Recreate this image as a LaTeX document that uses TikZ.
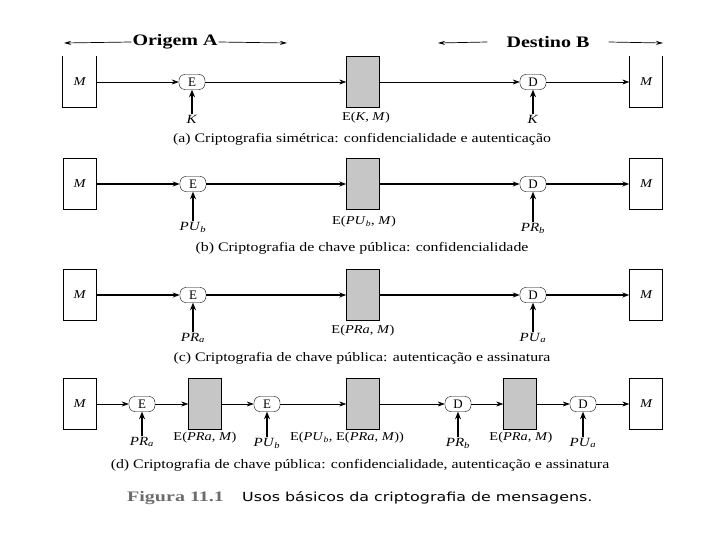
\documentclass[tikz,border=0pt]{standalone}
\usepackage{fontspec}
\setmainfont{Liberation Serif}
\newfontfamily\capsans{DejaVu Sans}
\usetikzlibrary{arrows.meta}
\newcommand{\hs}[2][1.2]{\scalebox{#1}[1]{#2}}
\newcommand{\kk}[2]{\textit{#1}\textsubscript{\textit{#2}}}
\begin{document}
\begin{tikzpicture}[x=1pt,y=-1pt,
  msgbox/.style={minimum width=33pt,minimum height=51pt,inner sep=0pt,font=\fontsize{12}{12}\selectfont\itshape},
  cipbox/.style={draw,fill=gray!45,minimum width=33pt,minimum height=51pt,inner sep=0pt},
  opbox/.style={draw,rounded corners=6pt,minimum width=26pt,minimum height=15pt,inner sep=0pt,font=\fontsize{13}{13}\selectfont},
  flow/.style={-{Stealth[length=7pt,width=5pt]},line width=0.7pt},
  flowb/.style={-{Stealth[length=7pt,width=5pt]},line width=1.1pt},
  keyarr/.style={-{Stealth[length=7.5pt,width=6pt]},line width=1.7pt},
  lab/.style={inner sep=1pt,font=\fontsize{12}{12}\selectfont},
  keylab/.style={inner sep=1pt,font=\fontsize{12.5}{12}\selectfont},
  captxt/.style={inner sep=0pt,font=\fontsize{13}{13}\selectfont},
  hdr/.style={inner sep=1pt,font=\fontsize{16}{16}\selectfont\bfseries},
  harr/.style={-{Stealth[length=7pt,width=4pt]},line width=0.7pt}]
\useasboundingbox (0,0) rectangle (720,540);

% header
\node[hdr] (oa) at (175,42) {\hs[1.25]{Origem A}};
\node[hdr] (db) at (548,42) {\hs[1.25]{Destino B}};
\coordinate (oal) at (64,43);
\coordinate (oar) at (287,43);
\coordinate (dbl) at (438,43);
\coordinate (dbr) at (663,43);
\draw[harr] (oa.west) -- (oal);
\draw[harr] (oa.east) -- (oar);
\draw[harr] ([xshift=-18pt]db.west) -- (dbl);
\draw[harr] ([xshift=18pt]db.east) -- (dbr);

% ---------- row a
\node[msgbox] (ma) at (79.5,82) {\hs{M}};
\draw[line width=0.7pt] (ma.north west) -- (ma.south west) -- (ma.south east) -- (ma.north east);
\node[opbox] (ea) at (192,82) {E};
\node[cipbox] (ca) at (363,82) {};
\node[opbox] (da) at (533,82) {D};
\node[msgbox] (mra) at (646,82) {\hs{M}};
\draw[line width=0.7pt] (mra.north west) -- (mra.south west) -- (mra.south east) -- (mra.north east);
\draw[flow] (ma.east) -- (ea.west);
\draw[flow] (ea.east) -- (ca.west);
\draw[flow] (ca.east) -- (da.west);
\draw[flow] (da.east) -- (mra.west);
\node[keylab] (kea) at (192,119) {\hs{\textit{K}}};
\node[keylab] (kda) at (533,119) {\hs{\textit{K}}};
\draw[keyarr] (kea.north) -- (ea.south);
\draw[keyarr] (kda.north) -- (da.south);
\node[lab] (lca) at (366,118) {\hs{E(\textit{K}, \textit{M})}};
\node[captxt] (capa) at (362,139) {\hs[1.22]{(a) Criptografia simétrica: confidencialidade e autenticação}};

% ---------- row b
\node[msgbox,draw] (mb) at (79.5,184) {\hs{M}};
\node[opbox] (eb) at (193,184) {E};
\node[cipbox] (cb) at (363,184) {};
\node[opbox] (db2) at (533,184) {D};
\node[msgbox,draw] (mrb) at (646,184) {\hs{M}};
\draw[flowb] (mb.east) -- (eb.west);
\draw[flowb] (eb.east) -- (cb.west);
\draw[flowb] (cb.east) -- (db2.west);
\draw[flowb] (db2.east) -- (mrb.west);
\node[keylab] (keb) at (193,227) {\hs{\kk{PU}{b}}};
\node[keylab] (kdb) at (533,228) {\hs{\kk{PR}{b}}};
\draw[keyarr] (keb.north) -- (eb.south);
\draw[keyarr] (kdb.north) -- (db2.south);
\node[lab] (lcb) at (364,222) {\hs{E(\kk{PU}{b}, \textit{M})}};
\node[captxt] (capb) at (362,248) {\hs[1.22]{(b) Criptografia de chave pública: confidencialidade}};

% ---------- row c
\node[msgbox,draw] (mc) at (79.5,295) {\hs{M}};
\node[opbox] (ec) at (193,295) {E};
\node[cipbox] (cc) at (363,295) {};
\node[opbox] (dc) at (533,295) {D};
\node[msgbox,draw] (mrc) at (646,295) {\hs{M}};
\draw[flowb] (mc.east) -- (ec.west);
\draw[flowb] (ec.east) -- (cc.west);
\draw[flowb] (cc.east) -- (dc.west);
\draw[flowb] (dc.east) -- (mrc.west);
\node[keylab] (kec) at (193,338) {\hs{\kk{PR}{a}}};
\node[keylab] (kdc) at (533,338) {\hs{\kk{PU}{a}}};
\draw[keyarr] (kec.north) -- (ec.south);
\draw[keyarr] (kdc.north) -- (dc.south);
\node[lab] (lcc) at (363,331) {\hs{E(\textit{PRa}, \textit{M})}};
\node[captxt] (capc) at (362,358) {\hs[1.22]{(c) Criptografia de chave pública: autenticação e assinatura}};

% ---------- row d
\node[msgbox,draw] (md) at (79.5,404) {\hs{M}};
\node[opbox] (ed1) at (142,404) {E};
\node[cipbox] (cd1) at (205,404) {};
\node[opbox] (ed2) at (267,404) {E};
\node[cipbox] (cd2) at (363,404) {};
\node[opbox] (dd1) at (458,404) {D};
\node[cipbox] (cd3) at (520,404) {};
\node[opbox] (dd2) at (583,404) {D};
\node[msgbox,draw] (mrd) at (646,404) {\hs{M}};
\draw[flow] (md.east) -- (ed1.west);
\draw[flow] (ed1.east) -- (cd1.west);
\draw[flow] (cd1.east) -- (ed2.west);
\draw[flow] (ed2.east) -- (cd2.west);
\draw[flow] (cd2.east) -- (dd1.west);
\draw[flow] (dd1.east) -- (cd3.west);
\draw[flow] (cd3.east) -- (dd2.west);
\draw[flow] (dd2.east) -- (mrd.west);
\node[keylab] (ked1) at (142,442) {\hs{\kk{PR}{a}}};
\node[keylab] (ked2) at (267,443) {\hs{\kk{PU}{b}}};
\node[keylab] (kdd1) at (458,443) {\hs{\kk{PR}{b}}};
\node[keylab] (kdd2) at (583,443) {\hs{\kk{PU}{a}}};
\draw[keyarr] (ked1.north) -- (ed1.south);
\draw[keyarr] (ked2.north) -- (ed2.south);
\draw[keyarr] (kdd1.north) -- (dd1.south);
\draw[keyarr] (kdd2.north) -- (dd2.south);
\node[lab] (lcd1) at (205,438) {\hs{E(\textit{PRa}, \textit{M})}};
\node[lab] (lcd2) at (347,438) {\hs{E(\kk{PU}{b}, E(\textit{PRa}, \textit{M}))}};
\node[lab] (lcd3) at (521,438) {\hs{E(\textit{PRa}, \textit{M})}};
\node[captxt] (capd) at (360,465) {\hs[1.22]{(d) Criptografia de chave pública: confidencialidade, autenticação e assinatura}};

% ---------- figure caption
\node[inner sep=0pt,anchor=west,text=gray!85!black,font=\fontsize{14.5}{14}\selectfont\bfseries] (fig) at (127,498) {\hs[1.38]{Figura 11.1}};
\node[inner sep=0pt,anchor=west,font=\capsans\fontsize{12.5}{12}\selectfont] (figt) at (242,498) {\hs[1.27]{Usos básicos da criptografia de mensagens.}};
\end{tikzpicture}
\end{document}
